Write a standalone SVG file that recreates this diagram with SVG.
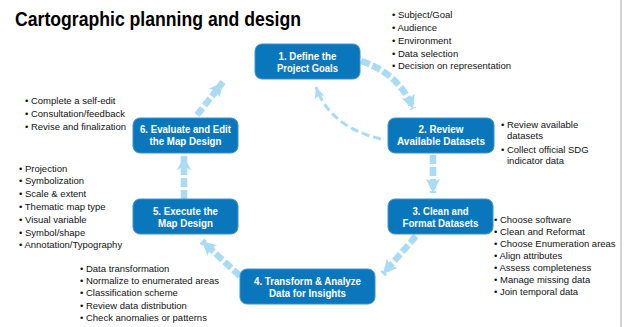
<svg xmlns="http://www.w3.org/2000/svg" width="625" height="327" viewBox="0 0 625 327">
<style>
.title{font-family:"Liberation Sans",Arial,sans-serif;font-weight:bold;font-size:19.5px;fill:#000}
.box{fill:#0a77bc;stroke:#3d93cf;stroke-width:1}
.lbl{font-family:"Liberation Sans Narrow","Liberation Sans",Arial,sans-serif;font-weight:bold;font-size:11px;fill:#fff;text-anchor:middle}
.bul{font-family:"Liberation Sans",Arial,sans-serif;font-size:9.5px;fill:#111}
.arr{fill:none;stroke:#a9dcf4;stroke-linecap:butt}
.thick{stroke-width:6.5;stroke-dasharray:9 3}
.thin{stroke-width:3;stroke-dasharray:8 4}
</style>
<defs>
<marker id="head" markerUnits="userSpaceOnUse" markerWidth="16" markerHeight="16" refX="14" refY="8" orient="auto" viewBox="0 0 16 16">
<path d="M0,1 L14,8 L0,15 L3,8 z" fill="#a9dcf4"/>
</marker>
<marker id="headS" markerUnits="userSpaceOnUse" markerWidth="12" markerHeight="12" refX="11" refY="6" orient="auto" viewBox="0 0 12 12">
<path d="M0,1 L11,6 L0,11 L2,6 z" fill="#a9dcf4"/>
</marker>
</defs>
<rect width="625" height="327" fill="#fff"/>
<line x1="621" y1="0" x2="621" y2="327" stroke="#d4d4d4" stroke-width="2"/>
<text class="title" x="15" y="26" textLength="286" lengthAdjust="spacingAndGlyphs">Cartographic planning and design</text>

<g id="connectors">
<path class="arr thick" d="M361,61 Q400,74 413,109" marker-end="url(#head)"/>
<path class="arr thin" d="M381,139 Q330,127 316,87" marker-end="url(#headS)"/>
<path class="arr thick" d="M433,155 L433,193" marker-end="url(#head)"/>
<path class="arr thick" d="M416,236 L383,274" marker-end="url(#head)"/>
<path class="arr thick" d="M240,276 L202,241" marker-end="url(#head)"/>
<path class="arr thick" d="M184,199 L184,156" marker-end="url(#head)"/>
<path class="arr thick" d="M197,115 L223,82" marker-end="url(#head)"/>
</g>

<g id="node1">
<rect class="box" x="255" y="44" width="105" height="35" rx="7"/>
<text class="lbl" x="307.5" y="59.9" textLength="58" lengthAdjust="spacingAndGlyphs">1. Define the</text>
<text class="lbl" x="307.5" y="72.3" textLength="61" lengthAdjust="spacingAndGlyphs">Project Goals</text>
</g>
<g id="node1-notes">
<text class="bul" x="392" y="17.8">• Subject/Goal</text>
<text class="bul" x="392" y="30.7">• Audience</text>
<text class="bul" x="392" y="43.6">• Environment</text>
<text class="bul" x="392" y="56.5">• Data selection</text>
<text class="bul" x="392" y="69.4">• Decision on representation</text>
</g>

<g id="node2">
<rect class="box" x="388" y="118" width="106" height="35" rx="7"/>
<text class="lbl" x="441" y="132.9" textLength="45" lengthAdjust="spacingAndGlyphs">2. Review</text>
<text class="lbl" x="441" y="145.3" textLength="88" lengthAdjust="spacingAndGlyphs">Available Datasets</text>
</g>
<g id="node2-notes">
<text class="bul" x="501" y="127.5">• Review available</text>
<text class="bul" x="507" y="138.7">datasets</text>
<text class="bul" x="501" y="152.5">• Collect official SDG</text>
<text class="bul" x="507" y="163.7">indicator data</text>
</g>

<g id="node3">
<rect class="box" x="388" y="199" width="105" height="35" rx="7"/>
<text class="lbl" x="440.5" y="214.9" textLength="56" lengthAdjust="spacingAndGlyphs">3. Clean and</text>
<text class="lbl" x="440.5" y="227.3" textLength="76" lengthAdjust="spacingAndGlyphs">Format Datasets</text>
</g>
<g id="node3-notes">
<text class="bul" x="494" y="222.5">• Choose software</text>
<text class="bul" x="494" y="234.6">• Clean and Reformat</text>
<text class="bul" x="494" y="246.7">• Choose Enumeration areas</text>
<text class="bul" x="494" y="258.8">• Align attributes</text>
<text class="bul" x="494" y="270.9">• Assess completeness</text>
<text class="bul" x="494" y="283">• Manage missing data</text>
<text class="bul" x="494" y="295.1">• Join temporal data</text>
</g>

<g id="node4">
<rect class="box" x="240" y="269" width="135" height="35" rx="7"/>
<text class="lbl" x="307.5" y="284.9" textLength="107" lengthAdjust="spacingAndGlyphs">4. Transform &amp; Analyze</text>
<text class="lbl" x="307.5" y="297.3" textLength="77" lengthAdjust="spacingAndGlyphs">Data for Insights</text>
</g>
<g id="node4-notes">
<text class="bul" x="80" y="271.5">• Data transformation</text>
<text class="bul" x="80" y="283.9">• Normalize to enumerated areas</text>
<text class="bul" x="80" y="296.3">• Classification scheme</text>
<text class="bul" x="80" y="308.7">• Review data distribution</text>
<text class="bul" x="80" y="321.1">• Check anomalies or patterns</text>
</g>

<g id="node5">
<rect class="box" x="133" y="199" width="105" height="35" rx="7"/>
<text class="lbl" x="185.5" y="214.9" textLength="65" lengthAdjust="spacingAndGlyphs">5. Execute the</text>
<text class="lbl" x="185.5" y="227.3" textLength="55" lengthAdjust="spacingAndGlyphs">Map Design</text>
</g>
<g id="node5-notes">
<text class="bul" x="19" y="171.5">• Projection</text>
<text class="bul" x="19" y="184.3">• Symbolization</text>
<text class="bul" x="19" y="197.1">• Scale &amp; extent</text>
<text class="bul" x="19" y="209.9">• Thematic map type</text>
<text class="bul" x="19" y="222.7">• Visual variable</text>
<text class="bul" x="19" y="235.5">• Symbol/shape</text>
<text class="bul" x="19" y="248.3">• Annotation/Typography</text>
</g>

<g id="node6">
<rect class="box" x="133" y="118" width="105" height="35" rx="7"/>
<text class="lbl" x="185.5" y="132.9" textLength="91" lengthAdjust="spacingAndGlyphs">6. Evaluate and Edit</text>
<text class="lbl" x="185.5" y="145.3" textLength="72" lengthAdjust="spacingAndGlyphs">the Map Design</text>
</g>
<g id="node6-notes">
<text class="bul" x="25" y="103.5">• Complete a self-edit</text>
<text class="bul" x="25" y="116.5">• Consultation/feedback</text>
<text class="bul" x="25" y="129.5">• Revise and finalization</text>
</g>
</svg>
